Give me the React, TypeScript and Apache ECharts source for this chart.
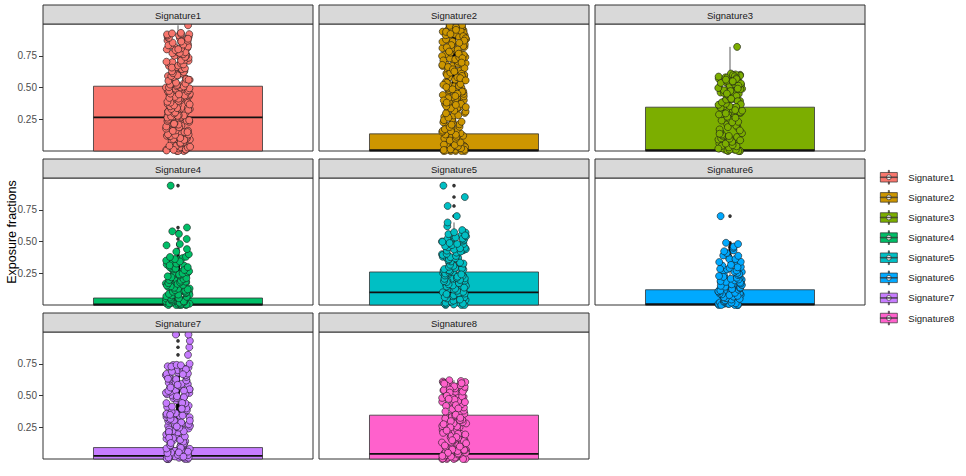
import React, { useEffect, useRef } from "react";
import * as echarts from "echarts";

const SIGNATURES = ["Signature1", "Signature2", "Signature3", "Signature4", "Signature5", "Signature6", "Signature7", "Signature8"];
const COLORS = ["#F8766D", "#CD9600", "#7CAE00", "#00BE67", "#00BFC4", "#00A9FF", "#C77CFF", "#FF61CC"];

// Box statistics (per signature)
const Q1 = [0, 0, 0, 0, 0, 0, 0, 0];
const MEDIAN = [0.265, 0.006, 0.006, 0.004, 0.1, 0.006, 0.025, 0.04];
const Q3 = [0.51, 0.135, 0.345, 0.055, 0.26, 0.12, 0.09, 0.345];
const WHISKER_LO = [0, 0, 0, 0, 0, 0, 0, 0];
const WHISKER_HI = [0.99, 0.33, 0.82, 0.14, 0.65, 0.3, 0.22, 0.62];

const Y_TICKS = [0.25, 0.5, 0.75];

// Exposure fractions (points) per signature
const SIG1 = [0.00, 0.01, 0.00, 0.02, 0.01, 0.03, 0.00, 0.02, 0.04, 0.01, 0.05, 0.03, 0.06, 0.02, 0.07, 0.04, 0.08, 0.09, 0.06, 0.10, 0.11, 0.12, 0.09, 0.13, 0.14, 0.15, 0.12, 0.16, 0.17, 0.18, 0.19, 0.16, 0.20, 0.21, 0.22, 0.20, 0.23, 0.24, 0.25, 0.26, 0.24, 0.27, 0.28, 0.29, 0.30, 0.28, 0.31, 0.32, 0.33, 0.34, 0.32, 0.35, 0.36, 0.37, 0.38, 0.36, 0.39, 0.40, 0.41, 0.42, 0.40, 0.43, 0.44, 0.45, 0.46, 0.47, 0.45, 0.48, 0.49, 0.50, 0.51, 0.52, 0.50, 0.53, 0.54, 0.55, 0.57, 0.56, 0.58, 0.59, 0.60, 0.62, 0.61, 0.63, 0.64, 0.65, 0.67, 0.66, 0.68, 0.69, 0.70, 0.71, 0.73, 0.72, 0.74, 0.75, 0.76, 0.78, 0.77, 0.79, 0.80, 0.82, 0.81, 0.83, 0.84, 0.86, 0.85, 0.87, 0.88, 0.90, 0.89, 0.91, 0.92, 0.93, 0.92, 0.99,
  0.004, 0.012, 0.027, 0.009, 0.041, 0.033, 0.058, 0.071, 0.064, 0.087, 0.102, 0.094, 0.118, 0.131, 0.127, 0.149, 0.162, 0.158, 0.176, 0.193, 0.187, 0.208, 0.219, 0.214, 0.236, 0.247, 0.242, 0.263, 0.272, 0.281, 0.277, 0.296, 0.309, 0.303, 0.324, 0.338, 0.331, 0.352, 0.367, 0.359, 0.381, 0.394, 0.388, 0.412, 0.426, 0.418, 0.437, 0.452, 0.446, 0.468, 0.479, 0.473, 0.494, 0.508, 0.502, 0.523, 0.538, 0.531, 0.552, 0.567, 0.561, 0.583, 0.596, 0.591, 0.613, 0.627, 0.622, 0.644, 0.657, 0.651, 0.673, 0.688, 0.682, 0.703, 0.718, 0.712, 0.734, 0.747, 0.741, 0.763, 0.778, 0.772, 0.794, 0.808, 0.801, 0.823, 0.838, 0.832, 0.853, 0.868, 0.862, 0.884, 0.897, 0.891, 0.909, 0.918, 0.926];
const SIG2 = [0.00, 0.00, 0.01, 0.00, 0.02, 0.01, 0.00, 0.03, 0.01, 0.02, 0.04, 0.00, 0.05, 0.02, 0.06, 0.03, 0.07, 0.01, 0.08, 0.04, 0.09, 0.10, 0.05, 0.11, 0.12, 0.06, 0.13, 0.08, 0.14, 0.15, 0.17, 0.16, 0.18, 0.20, 0.19, 0.21, 0.23, 0.22, 0.24, 0.26, 0.25, 0.27, 0.29, 0.28, 0.30, 0.32, 0.31, 0.33, 0.35, 0.34, 0.36, 0.38, 0.37, 0.39, 0.41, 0.40, 0.42, 0.44, 0.43, 0.45, 0.47, 0.46, 0.48, 0.50, 0.49, 0.51, 0.53, 0.52, 0.54, 0.56, 0.55, 0.57, 0.59, 0.58, 0.60, 0.62, 0.61, 0.63, 0.65, 0.64, 0.66, 0.68, 0.67, 0.69, 0.71, 0.70, 0.72, 0.74, 0.73, 0.75, 0.77, 0.76, 0.78, 0.80, 0.79, 0.81, 0.83, 0.82, 0.84, 0.86, 0.85, 0.87, 0.89, 0.88, 0.90, 0.92, 0.91, 0.93, 0.95, 0.94, 0.96, 0.97, 0.98, 0.99, 1.00,
  0.003, 0.008, 0.014, 0.022, 0.036, 0.048, 0.067, 0.083, 0.097, 0.112, 0.128, 0.156, 0.172, 0.189, 0.207, 0.226, 0.243, 0.262, 0.281, 0.297, 0.318, 0.336, 0.352, 0.371, 0.388, 0.407, 0.423, 0.441, 0.458, 0.476, 0.493, 0.512, 0.527, 0.546, 0.563, 0.581, 0.598, 0.617, 0.633, 0.652, 0.669, 0.687, 0.704, 0.722, 0.738, 0.757, 0.774, 0.792, 0.808, 0.826, 0.843, 0.861, 0.878, 0.896, 0.912, 0.931, 0.947, 0.963, 0.978, 0.992, 0.986, 0.973, 0.954, 0.938, 0.921, 0.904, 0.887, 0.869, 0.851, 0.834, 0.816, 0.799, 0.783, 0.766, 0.748, 0.731, 0.713, 0.696, 0.678, 0.661, 0.643, 0.626, 0.608, 0.591, 0.574, 0.556, 0.538, 0.521, 0.503, 0.486, 0.468, 0.451, 0.433, 0.416, 0.398, 0.381, 0.363, 0.346];
const SIG3 = [0.00, 0.01, 0.00, 0.02, 0.00, 0.01, 0.03, 0.00, 0.02, 0.04, 0.01, 0.05, 0.03, 0.06, 0.02, 0.07, 0.08, 0.04, 0.09, 0.10, 0.06, 0.11, 0.12, 0.13, 0.15, 0.14, 0.17, 0.19, 0.21, 0.20, 0.23, 0.25, 0.24, 0.27, 0.28, 0.30, 0.29, 0.31, 0.32, 0.33, 0.34, 0.35, 0.36, 0.35, 0.37, 0.38, 0.39, 0.40, 0.41, 0.40, 0.42, 0.43, 0.44, 0.45, 0.44, 0.46, 0.47, 0.48, 0.49, 0.48, 0.50, 0.51, 0.52, 0.53, 0.52, 0.54, 0.55, 0.56, 0.55, 0.57, 0.58, 0.57, 0.59, 0.60, 0.58, 0.61, 0.82,
  0.004, 0.011, 0.019, 0.028, 0.037, 0.046, 0.058, 0.072, 0.084, 0.097, 0.118, 0.136, 0.162, 0.188, 0.226, 0.262, 0.288, 0.305, 0.318, 0.327, 0.342, 0.353, 0.364, 0.372, 0.383, 0.394, 0.405, 0.414, 0.426, 0.437, 0.446, 0.457, 0.466, 0.478, 0.487, 0.496, 0.507, 0.516, 0.527, 0.536, 0.545, 0.553, 0.562, 0.571, 0.579, 0.586, 0.593, 0.603, 0.597, 0.588, 0.574, 0.566, 0.549, 0.532, 0.514, 0.491, 0.472, 0.452, 0.433, 0.411, 0.392, 0.368, 0.347, 0.322, 0.296];
const SIG4 = [0.00, 0.00, 0.01, 0.00, 0.02, 0.01, 0.00, 0.03, 0.01, 0.02, 0.04, 0.00, 0.05, 0.03, 0.06, 0.02, 0.07, 0.04, 0.08, 0.05, 0.09, 0.10, 0.06, 0.11, 0.12, 0.08, 0.13, 0.14, 0.10, 0.15, 0.16, 0.13, 0.17, 0.18, 0.15, 0.19, 0.20, 0.18, 0.21, 0.22, 0.20, 0.23, 0.24, 0.22, 0.25, 0.26, 0.27, 0.28, 0.29, 0.30, 0.31, 0.32, 0.33, 0.34, 0.36, 0.35, 0.37, 0.38, 0.40, 0.42, 0.44, 0.47, 0.48, 0.52, 0.56, 0.58, 0.61, 0.94,
  0.004, 0.009, 0.013, 0.018, 0.024, 0.029, 0.034, 0.042, 0.047, 0.053, 0.058, 0.064, 0.069, 0.076, 0.082, 0.087, 0.093, 0.098, 0.104, 0.112, 0.117, 0.123, 0.128, 0.136, 0.142, 0.147, 0.153, 0.158, 0.166, 0.172, 0.178, 0.184, 0.191, 0.197, 0.204, 0.212, 0.218, 0.226, 0.233, 0.241, 0.248, 0.257, 0.266, 0.276, 0.287, 0.298, 0.312, 0.326, 0.343, 0.362, 0.378];
const SIG5 = [0.00, 0.01, 0.00, 0.02, 0.01, 0.03, 0.00, 0.02, 0.04, 0.05, 0.03, 0.06, 0.07, 0.05, 0.08, 0.09, 0.07, 0.10, 0.11, 0.09, 0.12, 0.13, 0.11, 0.14, 0.15, 0.13, 0.16, 0.17, 0.15, 0.18, 0.19, 0.17, 0.20, 0.21, 0.19, 0.22, 0.23, 0.21, 0.24, 0.25, 0.23, 0.26, 0.27, 0.25, 0.28, 0.29, 0.27, 0.30, 0.31, 0.29, 0.32, 0.33, 0.31, 0.34, 0.35, 0.33, 0.36, 0.37, 0.38, 0.39, 0.37, 0.40, 0.41, 0.42, 0.43, 0.41, 0.44, 0.45, 0.46, 0.47, 0.48, 0.50, 0.49, 0.51, 0.53, 0.52, 0.54, 0.55, 0.57, 0.59, 0.62, 0.65, 0.70, 0.78, 0.85, 0.94,
  0.004, 0.011, 0.018, 0.026, 0.034, 0.043, 0.052, 0.061, 0.068, 0.077, 0.086, 0.094, 0.103, 0.112, 0.121, 0.128, 0.137, 0.146, 0.154, 0.163, 0.172, 0.181, 0.188, 0.197, 0.206, 0.214, 0.223, 0.232, 0.241, 0.248, 0.257, 0.266, 0.274, 0.283, 0.292, 0.301, 0.308, 0.317, 0.326, 0.334, 0.343, 0.352, 0.361, 0.368, 0.377, 0.386, 0.394, 0.403, 0.412, 0.421, 0.428, 0.437, 0.446, 0.454, 0.463, 0.472, 0.481, 0.488, 0.497, 0.506, 0.514, 0.523, 0.532, 0.541, 0.548, 0.558, 0.573];
const SIG6 = [0.00, 0.00, 0.01, 0.00, 0.02, 0.01, 0.00, 0.03, 0.01, 0.02, 0.04, 0.00, 0.05, 0.03, 0.06, 0.02, 0.07, 0.04, 0.08, 0.05, 0.09, 0.10, 0.07, 0.11, 0.12, 0.09, 0.13, 0.14, 0.11, 0.15, 0.16, 0.13, 0.17, 0.18, 0.16, 0.19, 0.20, 0.18, 0.21, 0.22, 0.20, 0.23, 0.24, 0.26, 0.25, 0.27, 0.28, 0.30, 0.29, 0.31, 0.33, 0.32, 0.35, 0.34, 0.37, 0.36, 0.39, 0.41, 0.43, 0.45, 0.46, 0.48, 0.49, 0.70,
  0.003, 0.008, 0.014, 0.019, 0.026, 0.031, 0.037, 0.043, 0.048, 0.054, 0.061, 0.066, 0.072, 0.078, 0.084, 0.091, 0.096, 0.103, 0.108, 0.114, 0.121, 0.126, 0.133, 0.138, 0.144, 0.151, 0.157, 0.163, 0.169, 0.176, 0.182, 0.188, 0.194, 0.201, 0.207, 0.214, 0.221, 0.228, 0.236, 0.244, 0.253, 0.262, 0.272, 0.284, 0.297, 0.316, 0.338, 0.362, 0.387, 0.423];
const SIG7 = [0.00, 0.00, 0.01, 0.00, 0.02, 0.01, 0.00, 0.03, 0.01, 0.02, 0.04, 0.00, 0.05, 0.03, 0.06, 0.02, 0.07, 0.04, 0.08, 0.05, 0.09, 0.10, 0.06, 0.11, 0.12, 0.14, 0.13, 0.15, 0.17, 0.16, 0.18, 0.20, 0.19, 0.21, 0.23, 0.22, 0.24, 0.26, 0.25, 0.27, 0.29, 0.28, 0.30, 0.32, 0.31, 0.33, 0.35, 0.34, 0.36, 0.38, 0.37, 0.39, 0.41, 0.40, 0.42, 0.44, 0.43, 0.45, 0.47, 0.46, 0.48, 0.50, 0.49, 0.51, 0.53, 0.52, 0.54, 0.56, 0.55, 0.57, 0.59, 0.58, 0.60, 0.62, 0.61, 0.63, 0.65, 0.64, 0.66, 0.68, 0.67, 0.69, 0.71, 0.70, 0.72, 0.74, 0.73, 0.75, 0.82, 0.88, 0.93, 0.98, 0.98,
  0.004, 0.012, 0.021, 0.033, 0.046, 0.058, 0.071, 0.083, 0.097, 0.108, 0.122, 0.137, 0.151, 0.164, 0.178, 0.193, 0.206, 0.218, 0.233, 0.247, 0.261, 0.274, 0.288, 0.302, 0.316, 0.329, 0.343, 0.357, 0.371, 0.384, 0.398, 0.412, 0.426, 0.439, 0.453, 0.467, 0.481, 0.494, 0.508, 0.522, 0.536, 0.549, 0.563, 0.577, 0.591, 0.604, 0.618, 0.632, 0.646, 0.659, 0.673, 0.687, 0.701, 0.714, 0.728, 0.741, 0.738, 0.706, 0.667, 0.628, 0.584, 0.537, 0.486, 0.441, 0.396, 0.348, 0.302, 0.256, 0.213, 0.167, 0.126, 0.088, 0.052, 0.018];
const SIG8 = [0.00, 0.00, 0.01, 0.00, 0.02, 0.01, 0.00, 0.03, 0.01, 0.02, 0.04, 0.00, 0.05, 0.03, 0.06, 0.02, 0.07, 0.04, 0.08, 0.05, 0.09, 0.10, 0.07, 0.11, 0.12, 0.13, 0.15, 0.14, 0.16, 0.18, 0.17, 0.19, 0.21, 0.20, 0.22, 0.24, 0.23, 0.25, 0.27, 0.26, 0.28, 0.30, 0.29, 0.31, 0.33, 0.32, 0.34, 0.35, 0.36, 0.38, 0.37, 0.39, 0.40, 0.41, 0.43, 0.42, 0.44, 0.45, 0.46, 0.48, 0.47, 0.49, 0.50, 0.51, 0.53, 0.52, 0.54, 0.55, 0.56, 0.58, 0.57, 0.59, 0.60, 0.61, 0.62, 0.60, 0.58,
  0.004, 0.011, 0.019, 0.027, 0.036, 0.044, 0.053, 0.063, 0.072, 0.083, 0.094, 0.106, 0.118, 0.131, 0.143, 0.156, 0.168, 0.181, 0.193, 0.206, 0.218, 0.231, 0.243, 0.256, 0.268, 0.281, 0.293, 0.306, 0.318, 0.331, 0.343, 0.356, 0.368, 0.381, 0.393, 0.406, 0.418, 0.431, 0.443, 0.456, 0.468, 0.481, 0.493, 0.506, 0.518, 0.531, 0.543, 0.556, 0.568, 0.581, 0.593, 0.606, 0.614, 0.597, 0.572, 0.547, 0.523, 0.498, 0.473, 0.448, 0.424, 0.398, 0.374, 0.349, 0.324, 0.298, 0.274, 0.249, 0.224, 0.198, 0.173, 0.148, 0.124, 0.098, 0.074, 0.049, 0.024];

const POINTS = [SIG1, SIG2, SIG3, SIG4, SIG5, SIG6, SIG7, SIG8];

// Layout
const COL_LEFT = [43, 319, 595];
const ROW_TOP = [24, 178, 332];
const PANEL_W = 270;
const PANEL_H = 127;
const STRIP_H = 19;
const BOX_HALF = 0.626;
const JITTER_HALF = 0.09;
const FONT = "'Liberation Sans', Arial, Helvetica, sans-serif";

const LEGEND_ICON =
  "path://M7.5,0h1v2h-1z M0,2h16v9h-16z M7.5,11h1v2h-1z M0,6.2h16v0.6h-16z M5.7,6.5a2.3,2.3 0 1,0 4.6,0a2.3,2.3 0 1,0 -4.6,0z";

// deterministic horizontal jitter (position only, not data)
function jitter(k: number, seed: number): number {
  const s = Math.sin((k + 1) * 12.9898 + (seed + 1) * 78.233) * 43758.5453;
  const f = s - Math.floor(s);
  return (f - 0.5) * 2 * JITTER_HALF;
}

export default function App() {
  const ref = useRef<HTMLDivElement>(null);

  useEffect(() => {
    if (!ref.current) return;
    const chart = echarts.init(ref.current, undefined, { renderer: "svg" });

    const grids: any[] = [];
    const xAxes: any[] = [];
    const yAxes: any[] = [];
    const series: any[] = [];
    const graphics: any[] = [];

    SIGNATURES.forEach((name, i) => {
      const col = i % 3;
      const row = Math.floor(i / 3);
      const left = COL_LEFT[col];
      const top = ROW_TOP[row];
      grids.push({
        left,
        top,
        width: PANEL_W,
        height: PANEL_H,
        show: true,
        borderColor: "#333333",
        borderWidth: 1,
        backgroundColor: "#ffffff",
        containLabel: false,
      });
      xAxes.push({
        gridIndex: i,
        type: "value",
        min: -1,
        max: 1,
        show: false,
        position: "bottom",
        axisLine: { show: false, onZero: false },
        axisTick: { show: false },
        axisLabel: { show: false },
        splitLine: { show: false },
      });
      yAxes.push({
        gridIndex: i,
        type: "value",
        position: "left",
        min: 0,
        max: 1,
        interval: 0.25,
        axisLine: { show: false, onZero: false },
        splitLine: { show: false },
        axisTick: {
          show: col === 0,
          length: 4,
          customValues: Y_TICKS,
          lineStyle: { color: "#333333", width: 1 },
        },
        axisLabel: {
          show: col === 0,
          customValues: Y_TICKS,
          formatter: (v: number) => v.toFixed(2),
          color: "#4D4D4D",
          fontSize: 10,
          margin: 6,
          fontFamily: FONT,
        },
      });

      const color = COLORS[i];
      series.push({
        type: "custom",
        name: "box" + (i + 1),
        xAxisIndex: i,
        yAxisIndex: i,
        silent: true,
        z: 1,
        data: [[Q1[i], MEDIAN[i], Q3[i], WHISKER_LO[i], WHISKER_HI[i]]],
        renderItem: (params: any, api: any) => {
          const q1 = api.value(0);
          const med = api.value(1);
          const q3 = api.value(2);
          const lo = api.value(3);
          const hi = api.value(4);
          const pTL = api.coord([-BOX_HALF, q3]);
          const pBR = api.coord([BOX_HALF, q1]);
          const pHi = api.coord([0, hi]);
          const pLo = api.coord([0, lo]);
          const pMedL = api.coord([-BOX_HALF, med]);
          const pMedR = api.coord([BOX_HALF, med]);
          return {
            type: "group",
            children: [
              {
                type: "line",
                shape: { x1: pHi[0], y1: pTL[1], x2: pHi[0], y2: pHi[1] },
                style: { stroke: "#333333", lineWidth: 0.8 },
              },
              {
                type: "line",
                shape: { x1: pLo[0], y1: pBR[1], x2: pLo[0], y2: pLo[1] },
                style: { stroke: "#333333", lineWidth: 0.8 },
              },
              {
                type: "rect",
                shape: { x: pTL[0], y: pTL[1], width: pBR[0] - pTL[0], height: pBR[1] - pTL[1] },
                style: { fill: color, stroke: "#333333", lineWidth: 0.8 },
              },
              {
                type: "line",
                shape: { x1: pMedL[0], y1: pMedL[1], x2: pMedR[0], y2: pMedR[1] },
                style: { stroke: "#111111", lineWidth: 1.8 },
              },
            ],
          };
        },
      });

      const pts = POINTS[i];
      const outliers = pts.filter((v) => v > WHISKER_HI[i] || v < WHISKER_LO[i]);
      series.push({
        type: "scatter",
        name: "outliers" + (i + 1),
        xAxisIndex: i,
        yAxisIndex: i,
        silent: true,
        z: 2,
        symbol: "circle",
        symbolSize: 3.6,
        itemStyle: { color: "#000000" },
        data: outliers.map((v) => [0, v]),
      });
      series.push({
        type: "scatter",
        name,
        xAxisIndex: i,
        yAxisIndex: i,
        z: 3,
        symbol: "circle",
        symbolSize: 7,
        itemStyle: { color, borderColor: "#1a1a1a", borderWidth: 0.6, opacity: 1 },
        data: pts.map((v, k) => [jitter(k, i), v]),
      });

      const stripTop = top - STRIP_H;
      graphics.push({
        type: "rect",
        shape: { x: left, y: stripTop, width: PANEL_W, height: STRIP_H },
        style: { fill: "#D9D9D9", stroke: "#333333", lineWidth: 1 },
        z: 10,
      });
      graphics.push({
        type: "text",
        x: left + PANEL_W / 2,
        y: stripTop + STRIP_H / 2 + 0.5,
        z: 11,
        style: {
          text: name,
          fill: "#1A1A1A",
          fontSize: 9.5,
          fontFamily: FONT,
          textAlign: "center",
          textVerticalAlign: "middle",
          align: "center",
          verticalAlign: "middle",
        },
      });
    });

    graphics.push({
      type: "text",
      x: 12,
      y: 232,
      rotation: Math.PI / 2,
      style: {
        text: "Exposure fractions",
        fill: "#000000",
        fontSize: 12.5,
        fontFamily: FONT,
        textAlign: "center",
        textVerticalAlign: "middle",
        align: "center",
        verticalAlign: "middle",
      },
    });

    chart.setOption({
      animation: false,
      backgroundColor: "#ffffff",
      textStyle: { fontFamily: FONT },
      grid: grids,
      xAxis: xAxes,
      yAxis: yAxes,
      series,
      graphic: graphics,
      legend: {
        orient: "vertical",
        left: 880,
        top: 170,
        padding: 0,
        itemWidth: 17,
        itemHeight: 14,
        itemGap: 5.6,
        icon: LEGEND_ICON,
        selectedMode: false,
        data: SIGNATURES,
        itemStyle: { borderColor: "#333333", borderWidth: 0.7 },
        textStyle: { fontSize: 9.5, color: "#1A1A1A", fontFamily: FONT, padding: [0, 0, 0, 6] },
      },
    });

    return () => chart.dispose();
  }, []);

  return (
    <div
      ref={ref}
      style={{ position: "fixed", left: 0, top: 0, width: 966, height: 476, background: "#fff" }}
    />
  );
}
